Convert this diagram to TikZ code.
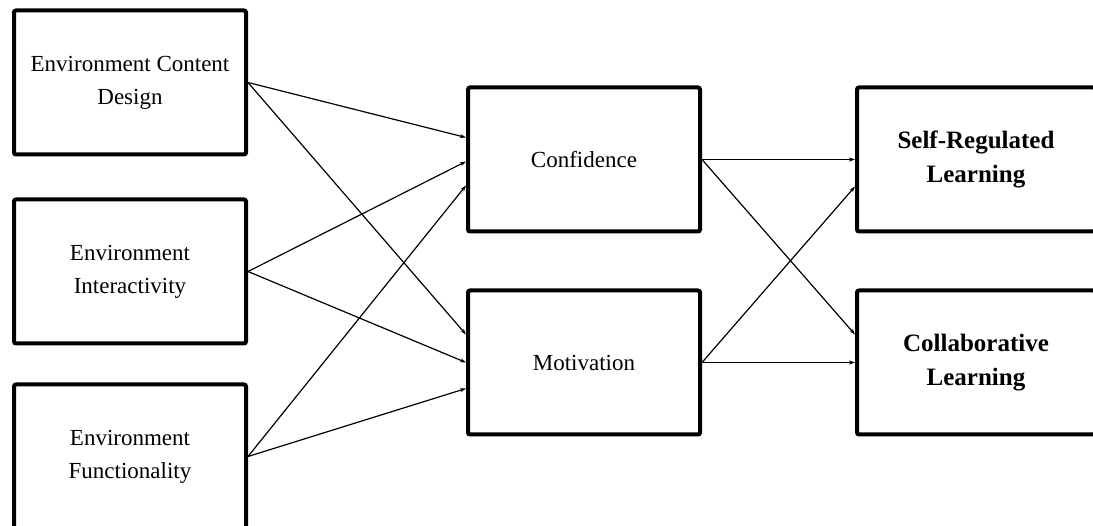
\documentclass[tikz,border=0pt]{standalone}
\usepackage{fontspec}
\setmainfont{Liberation Serif}
\usepackage{tikz}
\usetikzlibrary{arrows.meta, positioning}

\begin{document}
\begin{tikzpicture}[x=1pt, y=-1pt,
        font=\fontsize{23}{33}\selectfont,
        box/.style={draw, line width=4pt, rounded corners=2pt, fill=white,
          minimum width=232pt, minimum height=144pt, align=center, inner sep=0pt},
        outbox/.style={box, minimum width=238pt, font=\fontsize{25}{34}\selectfont\bfseries},
        arr/.style={-{Stealth[length=6pt,width=4pt]}, line width=1.2pt}]
        \clip (0,0) rectangle (1093,526);
        \fill[white] (0,0) rectangle (1093,526);
        % predictors
        \node[box] (content) at (130,82.5) {Environment Content\\Design};
        \node[box, below=41pt of content] (inter) {Environment\\Interactivity};
        \node[box, below=37pt of inter] (func) {Environment\\Functionality};
        % mediators
        \node[box] (conf) at (584,159.5) {Confidence};
        \node[box, below=55pt of conf] (motiv) {Motivation};
        % outcomes
        \node[outbox, right=153pt of conf] (srl) {Self-Regulated\\Learning};
        \node[outbox, right=153pt of motiv] (collab) {Collaborative\\Learning};
        \draw[arr] (content.east) -- ([yshift=22pt]conf.west);
        \draw[arr] (content.east) -- ([yshift=28pt]motiv.west);
        \draw[arr] (inter.east) -- ([yshift=-2pt]conf.west);
        \draw[arr] (inter.east) -- ([yshift=0pt]motiv.west);
        \draw[arr] (func.east) -- ([yshift=-26pt]conf.west);
        \draw[arr] (func.east) -- ([yshift=-26pt]motiv.west);
        \draw[arr] (conf.east) -- (srl.west);
        \draw[arr] (conf.east) -- ([yshift=28pt]collab.west);
        \draw[arr] (motiv.east) -- ([yshift=-27pt]srl.west);
        \draw[arr] (motiv.east) -- (collab.west);
      \end{tikzpicture}
\end{document}
